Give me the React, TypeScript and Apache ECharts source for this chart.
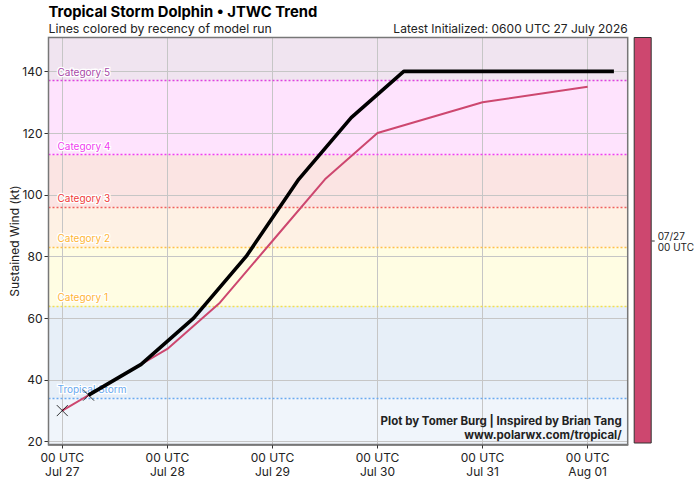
import React, { useEffect, useRef } from "react";
import * as echarts from "echarts";

// Forecast hours are counted from 00 UTC 27 July.
const dayTicks = [0, 24, 48, 72, 96, 120];
const dayLabels = ["Jul 27", "Jul 28", "Jul 29", "Jul 30", "Jul 31", "Aug 01"];
const windTicks = [20, 40, 60, 80, 100, 120, 140];

// 00 UTC 27 July model run
const runHours = [0, 12, 24, 36, 48, 60, 72, 96, 120];
const runWind = [30, 40, 50, 65, 85, 105, 120, 130, 135];

// Latest JTWC official forecast (0600 UTC 27 July)
const jtwcHours = [6, 18, 30, 42, 54, 66, 78, 102, 126];
const jtwcWind = [35, 45, 60, 80, 105, 125, 140, 140, 140];

// Observed intensity
const obsHours = [0, 6];
const obsWind = [30, 35];

// Saffir-Simpson thresholds (kt)
const categoryNames = ["Tropical Storm", "Category 1", "Category 2", "Category 3", "Category 4", "Category 5"];
const categoryThresholds = [34, 64, 83, 96, 113, 137];
const categoryLineColors = ["#6aaaf0", "#f5e24a", "#ffc04a", "#f06060", "#f040f0", "#e040e0"];
const categoryLabelColors = ["#6aaaf0", "#ffb536", "#ffb536", "#f03a3a", "#f040f0", "#a84aa8"];
const bandColors = ["#f0f5fb", "#e7eff8", "#fffde3", "#fef1e4", "#fbe4e3", "#fee3fd", "#f0e4f0"];

const X_MIN = -3.15;
const X_MAX = 129.15;
const Y_MIN = 19;
const Y_MAX = 151;

const W = 699;
const H = 482;
const GRID = { left: 48.5, right: 71.3, top: 37.5, bottom: 37.5 };
const FONT = "Inter, 'Noto Sans', sans-serif";
const RUN_COLOR = "#cd476f";

export default function App() {
  const ref = useRef<HTMLDivElement>(null);

  useEffect(() => {
    if (!ref.current) return;
    const chart = echarts.init(ref.current, undefined, { renderer: "svg" });

    const plotRight = W - GRID.right;
    const plotBottom = H - GRID.bottom;
    const plotW = plotRight - GRID.left;
    const plotH = plotBottom - GRID.top;

    const bandEdges = [Y_MIN, ...categoryThresholds, Y_MAX];
    const bands = bandColors.map((c, i) => [
      { yAxis: bandEdges[i], itemStyle: { color: c } },
      { yAxis: bandEdges[i + 1] },
    ]);

    const gridLines = [
      ...dayTicks.map((h) => ({ xAxis: h })),
      ...windTicks.map((v) => ({ yAxis: v })),
    ].map((d) => ({
      ...d,
      lineStyle: { color: "#c6c6c6", width: 1, type: "solid" },
      label: { show: false },
    }));

    const categoryLines = categoryThresholds.map((v, i) => ({
      yAxis: v,
      lineStyle: { color: categoryLineColors[i], width: 1.3, type: [2, 2] },
      label: {
        show: true,
        position: "insideStartTop",
        formatter: categoryNames[i],
        color: categoryLabelColors[i],
        fontFamily: FONT,
        fontSize: 10,
        textBorderColor: "#ffffff",
        textBorderWidth: 2.5,
        distance: [9, 4],
      },
    }));

    const toPairs = (xs: number[], ys: number[]) => xs.map((x, i) => [x, ys[i]]);

    chart.setOption({
      animation: false,
      textStyle: { fontFamily: FONT },
      grid: {
        left: GRID.left,
        right: GRID.right,
        top: GRID.top,
        bottom: GRID.bottom,
        containLabel: false,
        outerBoundsMode: "none",
      },
      xAxis: {
        type: "value",
        min: X_MIN,
        max: X_MAX,
        splitLine: { show: false },
        axisLine: { show: true, onZero: false, lineStyle: { color: "#666", width: 1.5 } },
        axisTick: { show: true, customValues: dayTicks, length: 4, lineStyle: { color: "#333" } },
        axisLabel: {
          customValues: dayTicks,
          formatter: (v: number) => "00 UTC\n" + dayLabels[dayTicks.indexOf(v)],
          color: "#222",
          fontSize: 12,
          lineHeight: 14,
          margin: 6,
          fontFamily: FONT,
        },
      },
      yAxis: {
        type: "value",
        min: Y_MIN,
        max: Y_MAX,
        splitLine: { show: false },
        axisLine: { show: true, onZero: false, lineStyle: { color: "#666", width: 1.5 } },
        axisTick: { show: true, customValues: windTicks, length: 4, lineStyle: { color: "#333" } },
        axisLabel: { customValues: windTicks, color: "#222", fontSize: 12, margin: 6, fontFamily: FONT },
        name: "Sustained Wind (kt)",
        nameLocation: "middle",
        nameGap: 28,
        nameMoveOverlap: false,
        nameTextStyle: { color: "#222", fontSize: 12, fontFamily: FONT },
      },
      series: [
        {
          name: "background",
          type: "line",
          data: [],
          silent: true,
          z: 1,
          markArea: { silent: true, z: 1, data: bands },
          markLine: {
            silent: true,
            z: 2,
            symbol: ["none", "none"],
            data: [...gridLines, ...categoryLines],
          },
        },
        {
          name: "07/27 00 UTC",
          type: "line",
          data: toPairs(runHours, runWind),
          showSymbol: false,
          lineStyle: { color: RUN_COLOR, width: 2 },
          z: 10,
        },
        {
          name: "JTWC",
          type: "line",
          data: toPairs(jtwcHours, jtwcWind),
          showSymbol: false,
          lineStyle: { color: "#000", width: 3.6 },
          z: 11,
        },
        {
          name: "Observed",
          type: "scatter",
          data: toPairs(obsHours, obsWind),
          symbol: "path://M0,0L10,10M10,0L0,10",
          symbolSize: 11,
          itemStyle: { color: "none", borderColor: "#000", borderWidth: 1 },
          z: 12,
        },
      ],
      graphic: [
        {
          type: "text",
          x: GRID.left,
          y: 12,
          style: {
            text: "Tropical Storm Dolphin \u2022 JTWC Trend",
            font: `bold 14.8px ${FONT}`,
            fill: "#000",
            verticalAlign: "middle",
            lineHeight: 15,
          },
        },
        {
          type: "text",
          x: GRID.left,
          y: 28,
          style: {
            text: "Lines colored by recency of model run",
            font: `12.3px ${FONT}`,
            fill: "#222",
            verticalAlign: "middle",
            lineHeight: 13,
          },
        },
        {
          type: "text",
          x: GRID.left + plotW,
          y: 28,
          style: {
            text: "Latest Initialized: 0600 UTC 27 July 2026",
            font: `12px ${FONT}`,
            fill: "#222",
            align: "right",
            verticalAlign: "middle",
            lineHeight: 13,
          },
        },
        {
          type: "text",
          x: plotRight - 6,
          y: plotBottom - 30,
          z: 20,
          style: {
            text: "Plot by Tomer Burg | Inspired by Brian Tang\nwww.polarwx.com/tropical/",
            font: `bold 11.5px ${FONT}`,
            fill: "#222",
            align: "right",
            lineHeight: 13.5,
          },
        },
        {
          type: "rect",
          z: 20,
          silent: true,
          shape: { x: GRID.left, y: GRID.top, width: plotW, height: plotH },
          style: { fill: "none", stroke: "#777", lineWidth: 1.5 },
        },
        {
          type: "rect",
          z: 20,
          shape: { x: plotRight + 6.5, y: GRID.top, width: 17, height: plotH - 1.5 },
          style: { fill: RUN_COLOR, stroke: "#333", lineWidth: 1 },
        },
        {
          type: "line",
          z: 20,
          shape: {
            x1: plotRight + 24,
            y1: GRID.top + plotH / 2,
            x2: plotRight + 27,
            y2: GRID.top + plotH / 2,
          },
          style: { stroke: "#333", lineWidth: 1 },
        },
        {
          type: "text",
          z: 20,
          x: plotRight + 30,
          y: GRID.top + plotH / 2,
          style: {
            text: "07/27\n00 UTC",
            font: `10px ${FONT}`,
            fill: "#222",
            verticalAlign: "middle",
            lineHeight: 11,
          },
        },
      ],
    });

    return () => chart.dispose();
  }, []);

  return (
    <div
      ref={ref}
      style={{ position: "fixed", left: 0, top: 0, width: W, height: H, background: "#fff" }}
    />
  );
}
